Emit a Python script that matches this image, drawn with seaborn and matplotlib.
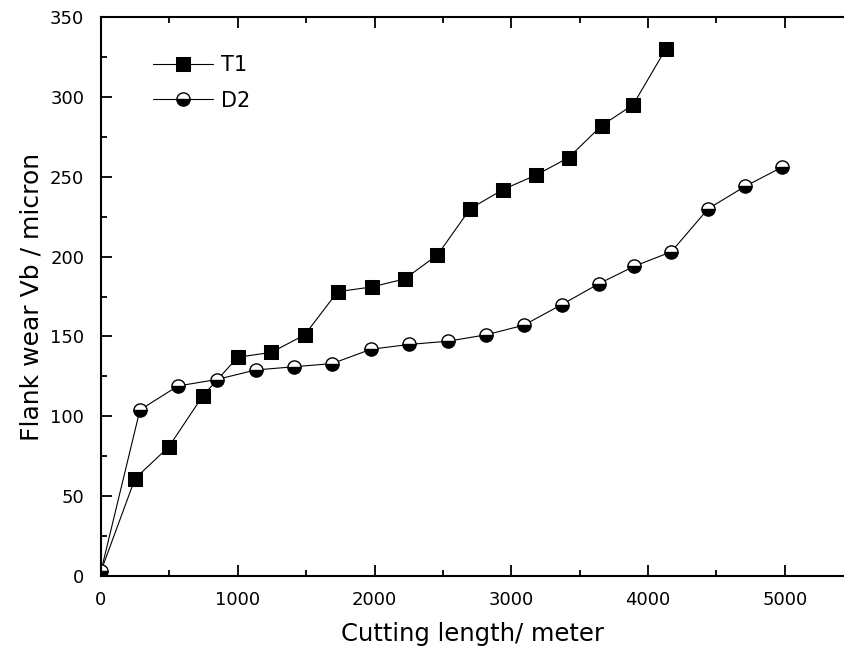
import numpy as np
import pandas as pd
import matplotlib
matplotlib.use("Agg")
import matplotlib.pyplot as plt
import seaborn as sns
from matplotlib.ticker import MultipleLocator

# T1 series (squares)
t1_x = [0, 249, 497, 746, 1000, 1245, 1490, 1730, 1980, 2220, 2460, 2700, 2940, 3180, 3420, 3660, 3890, 4130]
t1_y = [3, 61, 81, 113, 137, 140, 151, 178, 181, 186, 201, 230, 242, 251, 262, 282, 295, 330]

# D2 series (half-filled circles)
d2_x = [0, 285, 563, 845, 1130, 1410, 1690, 1975, 2255, 2535, 2815, 3090, 3370, 3640, 3900, 4170, 4440, 4710, 4980]
d2_y = [3, 104, 119, 123, 129, 131, 133, 142, 145, 147, 151, 157, 170, 183, 194, 203, 230, 244, 256]

sns.set_theme(style="white")
plt.rcParams['font.family'] = ['DejaVu Sans']
plt.rcParams['text.color'] = 'black'
plt.rcParams['axes.labelcolor'] = 'black'

fig = plt.figure(figsize=(8.45, 6.55), dpi=100)
ax = fig.add_axes([0.1195, 0.1206, 0.8805, 0.8534])

t1 = pd.DataFrame({'x': t1_x, 'y': t1_y})
d2 = pd.DataFrame({'x': d2_x, 'y': d2_y})

sns.lineplot(data=t1, x='x', y='y', ax=ax, color='black', linewidth=0.8,
             marker='s', markersize=9.5, markeredgecolor='black',
             markerfacecolor='black', markevery=list(range(1, len(t1_x))),
             label='T1', sort=False)
sns.lineplot(data=d2, x='x', y='y', ax=ax, color='black', linewidth=0.8,
             marker='o', markersize=9.5, fillstyle='bottom',
             markerfacecolor='black', markerfacecoloralt='white',
             markeredgecolor='black', markeredgewidth=1.0,
             label='D2', sort=False)

ax.set_xlim(0, 5440)
ax.set_ylim(0, 350)
ax.xaxis.set_major_locator(MultipleLocator(1000))
ax.xaxis.set_minor_locator(MultipleLocator(500))
ax.yaxis.set_major_locator(MultipleLocator(50))
ax.yaxis.set_minor_locator(MultipleLocator(25))
ax.tick_params(which='both', direction='in', top=True, right=False,
               bottom=True, left=True, width=1.3, colors='black',
               labelsize=13)
ax.tick_params(axis='x', pad=11)
ax.tick_params(axis='y', pad=12)
ax.tick_params(which='major', length=8)
ax.tick_params(which='minor', length=4.5)

for side in ['left', 'bottom', 'top']:
    ax.spines[side].set_visible(True)
    ax.spines[side].set_color('black')
    ax.spines[side].set_linewidth(1.5)
ax.spines['right'].set_visible(False)

ax.set_xlabel('Cutting length/ meter', fontsize=17.5, labelpad=9)
ax.set_ylabel('Flank wear Vb / micron', fontsize=18, labelpad=5)

leg = ax.legend(loc='upper left', bbox_to_anchor=(0.07, 0.932), frameon=False,
                fontsize=15, handlelength=2.9, handletextpad=0.35,
                labelspacing=0.75, borderaxespad=0, borderpad=0)
for t in leg.get_texts():
    t.set_color('black')

fig.savefig('out.png', dpi=100)
